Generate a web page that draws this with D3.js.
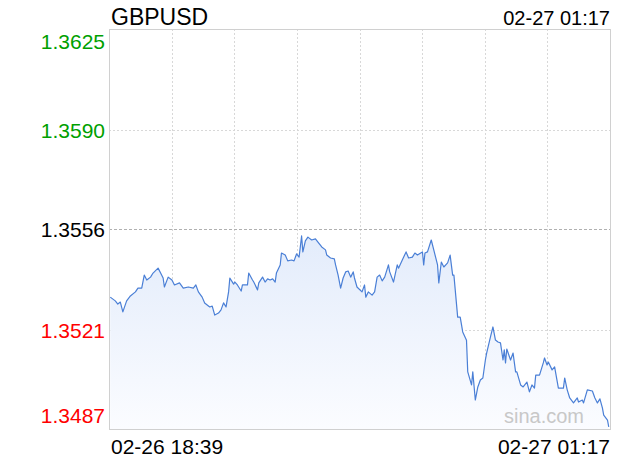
<!DOCTYPE html>
<html>
<head>
<meta charset="utf-8">
<script src="https://cdn.jsdelivr.net/npm/d3@7"></script>
<style>
    body { margin: 0; background: #fff; }
    svg { display: block; font-family: "Liberation Sans", Arial, Helvetica, sans-serif; }
</style>
</head>
<body>
<div id="chart"></div>
<script>
// minutes after 02-26 18:39
const minutes = [1, 5, 7, 9, 11, 14, 17, 21, 23, 26, 28, 30, 33, 35, 39, 41, 43, 44, 47, 50,
    52, 56, 59, 63, 67, 69, 71, 74, 76, 80, 82, 84, 87, 89, 91, 93, 95, 96, 99, 100,
    102, 105, 106, 110, 111, 114, 115, 118, 119, 122, 124, 126, 128, 130, 132, 133, 136, 137, 140, 142,
    145, 147, 149, 151, 153, 154, 156, 158, 161, 164, 166, 169, 172, 173, 176, 179, 180, 182, 184, 186,
    188, 190, 192, 194, 195, 197, 201, 203, 204, 206, 209, 211, 213, 215, 217, 219, 222, 223, 226, 229,
    230, 233, 236, 238, 241, 243, 245, 249, 250, 251, 253, 256, 258, 261, 262, 264, 266, 269, 271, 273,
    274, 277, 279, 281, 284, 285, 288, 289, 291, 293, 295, 297, 299, 300, 303, 305, 307, 309, 311, 313,
    314, 315, 316, 319, 321, 323, 324, 327, 329, 332, 334, 336, 338, 339, 342, 345, 346, 348, 349, 352,
    354, 357, 361, 362, 364, 366, 369, 372, 373, 376, 377, 380, 384, 386, 388, 390, 392, 393, 396, 397];

const prices = [1.35325, 1.35312, 1.35301, 1.35308, 1.35274, 1.35312, 1.35329, 1.35343, 1.35356, 1.35356,
    1.35401, 1.35384, 1.35394, 1.35408, 1.35425, 1.35408, 1.35391, 1.35360, 1.35394, 1.35384,
    1.35367, 1.35374, 1.35356, 1.35360, 1.35356, 1.35367, 1.35343, 1.35325, 1.35305, 1.35291,
    1.35294, 1.35263, 1.35270, 1.35281, 1.35305, 1.35291, 1.35343, 1.35391, 1.35370, 1.35377,
    1.35367, 1.35346, 1.35367, 1.35367, 1.35408, 1.35384, 1.35377, 1.35350, 1.35374, 1.35394,
    1.35377, 1.35388, 1.35384, 1.35388, 1.35377, 1.35408, 1.35436, 1.35477, 1.35470, 1.35450,
    1.35453, 1.35450, 1.35474, 1.35463, 1.35536, 1.35481, 1.35519, 1.35532, 1.35522, 1.35526,
    1.35515, 1.35498, 1.35488, 1.35470, 1.35460, 1.35457, 1.35436, 1.35401, 1.35356, 1.35391,
    1.35412, 1.35415, 1.35394, 1.35412, 1.35391, 1.35360, 1.35343, 1.35367, 1.35325, 1.35343,
    1.35332, 1.35343, 1.35394, 1.35401, 1.35381, 1.35394, 1.35436, 1.35412, 1.35377, 1.35436,
    1.35425, 1.35453, 1.35481, 1.35460, 1.35463, 1.35477, 1.35470, 1.35481, 1.35436, 1.35477,
    1.35481, 1.35522, 1.35488, 1.35436, 1.35374, 1.35446, 1.35429, 1.35443, 1.35470, 1.35401,
    1.35401, 1.35256, 1.35256, 1.35205, 1.35176, 1.35067, 1.35022, 1.35067, 1.34970, 1.35015,
    1.35039, 1.35046, 1.35108, 1.35132, 1.35187, 1.35222, 1.35177, 1.35170, 1.35167, 1.35108,
    1.35143, 1.35098, 1.35146, 1.35108, 1.35132, 1.35067, 1.35067, 1.35022, 1.35015, 1.35032,
    1.34998, 1.35022, 1.35011, 1.35056, 1.35056, 1.35098, 1.35115, 1.35091, 1.35101, 1.35074,
    1.35084, 1.35011, 1.35011, 1.35046, 1.35005, 1.34977, 1.34960, 1.34977, 1.34963, 1.34970,
    1.34960, 1.35005, 1.35001, 1.34977, 1.34960, 1.34974, 1.34942, 1.34918, 1.34901, 1.34877];

const yTicks = [1.3625, 1.3590, 1.3556, 1.3521, 1.3487];
const prevClose = 1.3556;
const totalMinutes = 398;
const symbol = "GBPUSD";
const startLabel = "02-26 18:39";
const endLabel = "02-27 01:17";

const width = 620, height = 460;
const margin = {top: 29, right: 10, bottom: 31, left: 109};
const plotW = width - margin.left - margin.right,
      plotH = height - margin.top - margin.bottom;

function tickColor(v) {
    // green above previous close, red below, black at it
    if (Math.abs(v - prevClose) < 1e-6) return "#000";
    return v > prevClose ? "#00a000" : "#ff0000";
}

function drawChart() {
    /**
     * Intraday price line with shaded area, sina style
     */
    let data = minutes.map((m, i) => [m, prices[i]]);

    let svg = d3.select("#chart")
        .append("svg")
        .attr("width", width)
        .attr("height", height);

    let defs = svg.append("defs");
    let grad = defs.append("linearGradient")
        .attr("id", "areaFill")
        .attr("x1", 0).attr("y1", 0)
        .attr("x2", 0).attr("y2", 1);
    grad.append("stop").attr("offset", "0%").attr("stop-color", "#e3ecfb");
    grad.append("stop").attr("offset", "100%").attr("stop-color", "#fbfcff");

    let g = svg.append("g")
        .attr("transform", "translate(" + margin.left + "," + margin.top + ")");

    let x = d3.scaleLinear()
        .domain([0, totalMinutes])
        .range([0, plotW]);

    let y = d3.scaleLinear()
        .domain([yTicks[yTicks.length - 1], yTicks[0]])
        .range([plotH, 0]);

    // vertical grid
    let vTicks = d3.range(1, 8).map(i => i * totalMinutes / 8);
    g.selectAll(".vgrid")
        .data(vTicks)
        .enter().append("line")
        .attr("class", "vgrid")
        .attr("x1", d => Math.round(x(d)) + 0.5)
        .attr("x2", d => Math.round(x(d)) + 0.5)
        .attr("y1", 0)
        .attr("y2", plotH)
        .attr("stroke", "#d8d8d8")
        .attr("stroke-dasharray", "2,2");

    // horizontal grid
    g.selectAll(".hgrid")
        .data(yTicks.slice(1, -1))
        .enter().append("line")
        .attr("class", "hgrid")
        .attr("x1", 0)
        .attr("x2", plotW)
        .attr("y1", d => Math.round(y(d)) + 0.5)
        .attr("y2", d => Math.round(y(d)) + 0.5)
        .attr("stroke", d => d === prevClose ? "#b0b0b0" : "#d8d8d8")
        .attr("stroke-dasharray", d => d === prevClose ? "3,2" : "2,2");

    let area = d3.area()
        .x(d => x(d[0]))
        .y0(plotH)
        .y1(d => y(d[1]));

    let line = d3.line()
        .x(d => x(d[0]))
        .y(d => y(d[1]));

    g.append("path")
        .datum(data)
        .attr("fill", "url(#areaFill)")
        .attr("d", area);

    // frame
    g.append("rect")
        .attr("x", 0.5)
        .attr("y", 0.5)
        .attr("width", plotW)
        .attr("height", plotH)
        .attr("fill", "none")
        .attr("stroke", "#d0d0d0");

    g.append("text")
        .attr("x", plotW - 26)
        .attr("y", plotH - 6)
        .attr("text-anchor", "end")
        .attr("fill", "#c8c8c8")
        .style("font-size", "20px")
        .text("sina.com");

    g.append("path")
        .datum(data)
        .attr("fill", "none")
        .attr("stroke", "#4a7fd6")
        .attr("stroke-width", 1.2)
        .attr("stroke-linejoin", "round")
        .attr("d", line);

    // y labels
    g.selectAll(".ylab")
        .data(yTicks)
        .enter().append("text")
        .attr("class", "ylab")
        .attr("x", -4)
        .attr("y", (d, i) => {
            if (i === 0) return y(d) + 12;
            if (i === yTicks.length - 1) return y(d) - 14;
            return y(d);
        })
        .attr("dy", "0.36em")
        .attr("text-anchor", "end")
        .attr("fill", d => tickColor(d))
        .style("font-size", "21px")
        .text(d => d.toFixed(4));

    svg.append("text")
        .attr("x", margin.left + 2)
        .attr("y", 25)
        .style("font-size", "23px")
        .attr("fill", "#000")
        .text(symbol);

    svg.append("text")
        .attr("x", width - 10)
        .attr("y", 25)
        .attr("text-anchor", "end")
        .style("font-size", "20px")
        .attr("fill", "#000")
        .text(endLabel);

    svg.append("text")
        .attr("x", margin.left + 2)
        .attr("y", height - 6)
        .style("font-size", "21px")
        .attr("fill", "#000")
        .text(startLabel);

    svg.append("text")
        .attr("x", width - 10)
        .attr("y", height - 6)
        .attr("text-anchor", "end")
        .style("font-size", "21px")
        .attr("fill", "#000")
        .text(endLabel);
}

drawChart();
</script>
</body>
</html>
